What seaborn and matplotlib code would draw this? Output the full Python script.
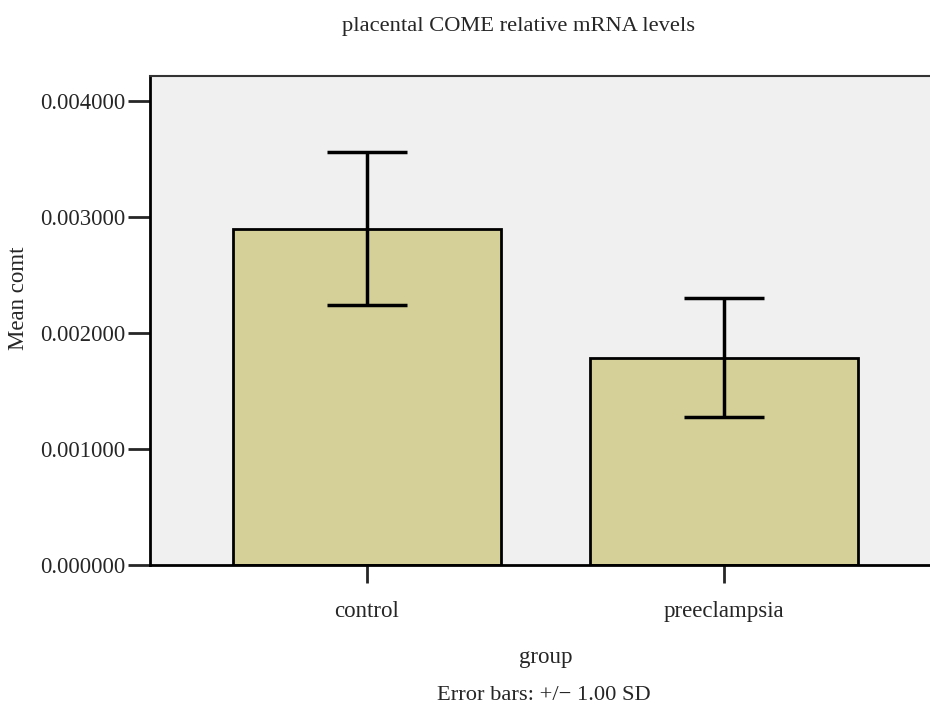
import pandas as pd
import matplotlib
matplotlib.use("Agg")
import matplotlib.pyplot as plt
import seaborn as sns

groups = ["control", "preeclampsia"]
means = [0.00290, 0.00179]
sds = [0.00066, 0.00051]

df = pd.DataFrame({"group": groups, "mean": means, "sd": sds})

sns.set_style("white")
plt.rcParams["font.family"] = ["Liberation Serif", "DejaVu Serif"]

fig = plt.figure(figsize=(9.3, 7.08), dpi=100)
ax = fig.add_axes([150 / 930, 1 - 565 / 708, 791 / 930, 489 / 708])
ax.set_facecolor("#f0f0f0")

sns.barplot(data=df, x="group", y="mean", color="#d4d098", saturation=1,
            width=0.75, edgecolor="black", linewidth=2, errorbar=None, ax=ax)
ax.errorbar(range(len(groups)), df["mean"], yerr=df["sd"], fmt="none",
            ecolor="black", elinewidth=2.5, capsize=29, capthick=2.5)

ax.set_xlim(-0.608, 1.608)
ax.set_ylim(0, 0.00422)
ax.set_yticks([0, 0.001, 0.002, 0.003, 0.004])
ax.set_yticklabels([f"{v:.6f}" for v in [0, 0.001, 0.002, 0.003, 0.004]])

for s in ["left", "bottom", "top"]:
    ax.spines[s].set_visible(True)
    ax.spines[s].set_color("black")
    ax.spines[s].set_linewidth(2)
ax.spines["top"].set_color("#333333")
ax.spines["top"].set_linewidth(1.5)
ax.spines["right"].set_visible(False)

ax.tick_params(axis="y", direction="out", length=16, width=2, labelsize=16.3, pad=2, left=True)
ax.tick_params(axis="x", direction="out", length=13, width=2, labelsize=16.5, pad=13, bottom=True)

ax.set_xlabel("group", fontsize=16.5, labelpad=18)
ax.set_ylabel("Mean comt", fontsize=16.5)
ax.yaxis.set_label_coords(-121 / 791, (565 - 298) / 489)

fig.text(519 / 930, 1 - 27 / 708, "placental COME relative mRNA levels",
         ha="center", va="center", fontsize=16.2)
fig.text(544 / 930, 1 - 696 / 708, "Error bars: +/\u2212 1.00 SD",
         ha="center", va="center", fontsize=16.2)

fig.savefig("out.png", dpi=100)
